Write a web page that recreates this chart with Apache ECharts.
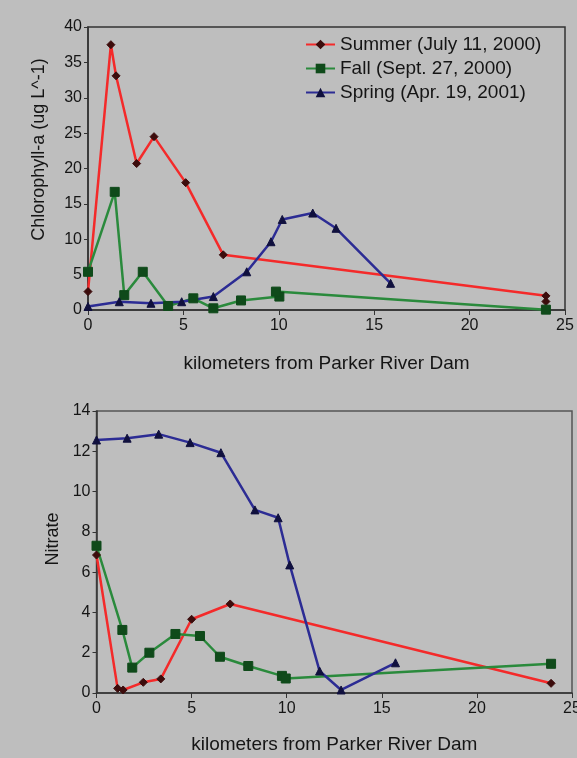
<!DOCTYPE html>
<html>
<head>
<meta charset="utf-8">
<script src="https://cdn.jsdelivr.net/npm/echarts@6/dist/echarts.min.js"></script>
<style>
  html, body { margin: 0; padding: 0; background: #bebebe; }
  #chart { width: 577px; height: 758px; }
</style>
</head>
<body>
<div id="chart"></div>
<script>
// Sampling campaigns
const seasonNames = ['Summer (July 11, 2000)', 'Fall (Sept. 27, 2000)', 'Spring (Apr. 19, 2001)'];

// Tick values
const distTicks = [0, 5, 10, 15, 20, 25];
const chlTicks = [0, 5, 10, 15, 20, 25, 30, 35, 40];
const nitTicks = [0, 2, 4, 6, 8, 10, 12, 14];

// Chlorophyll-a: [km from dam, ug/L]
const chlSummer = [[0, 2.6], [1.2, 37.5], [1.47, 33.1], [2.55, 20.7], [3.46, 24.5], [5.12, 18.0], [7.09, 7.8], [24.0, 2.0], [24.0, 1.2]];
const chlFall = [[0, 5.4], [1.4, 16.7], [1.9, 2.1], [2.87, 5.4], [4.2, 0.57], [5.52, 1.65], [6.57, 0.24], [8.02, 1.35], [10.03, 1.9], [9.85, 2.6], [24.0, 0.05]];
const chlSpring = [[0, 0.5], [1.64, 1.17], [3.3, 0.95], [4.91, 1.17], [6.57, 1.9], [8.32, 5.4], [9.59, 9.65], [10.18, 12.8], [11.78, 13.7], [13.0, 11.55], [15.86, 3.77]];

// Nitrate: [km from dam, concentration]
const nitSummer = [[0, 6.85], [1.11, 0.23], [1.4, 0.15], [2.46, 0.53], [3.38, 0.7], [5.0, 3.66], [7.03, 4.42], [23.9, 0.48]];
const nitFall = [[0, 7.31], [1.36, 3.13], [1.88, 1.26], [2.78, 2.0], [4.15, 2.93], [5.44, 2.83], [6.49, 1.8], [7.98, 1.34], [9.75, 0.85], [9.95, 0.72], [23.9, 1.45]];
const nitSpring = [[0, 12.56], [1.61, 12.65], [3.27, 12.85], [4.92, 12.43], [6.54, 11.93], [8.33, 9.09], [9.55, 8.7], [10.16, 6.36], [11.73, 1.09], [12.86, 0.15], [15.72, 1.5]];

const FONT = "'Liberation Sans', Arial, sans-serif";
const TXT = '#151515';

const styles = [
  { line: '#f42a2a', mark: '#3c0c0c', symbol: 'diamond', size: 8 },
  { line: '#2a8a3c', mark: '#0f4a1a', symbol: 'rect', size: 9 },
  { line: '#2c2c94', mark: '#10103e', symbol: 'triangle', size: 8 }
];

function xAxisFor(gridIndex, gap) {
  return {
    type: 'value', gridIndex,
    min: distTicks[0], max: distTicks[distTicks.length - 1],
    interval: distTicks[1] - distTicks[0],
    name: 'kilometers from Parker River Dam',
    nameLocation: 'middle', nameGap: gap,
    nameTextStyle: { fontFamily: FONT, fontSize: 19, color: TXT },
    axisLine: { lineStyle: { color: '#333', width: 1.5 } },
    axisTick: { show: true, inside: false, length: 5, lineStyle: { color: '#333' } },
    axisLabel: { fontFamily: FONT, fontSize: 16, color: TXT, margin: 8 },
    splitLine: { show: false }
  };
}

function yAxisFor(gridIndex, ticks, name, gap, pad) {
  return {
    type: 'value', gridIndex,
    min: ticks[0], max: ticks[ticks.length - 1],
    interval: ticks[1] - ticks[0],
    name, nameLocation: 'middle', nameGap: gap,
    nameTextStyle: { fontFamily: FONT, fontSize: 18, color: TXT, padding: [0, 0, 0, pad] },
    axisLine: { show: true, lineStyle: { color: '#333', width: 1.5 } },
    axisTick: { show: true, inside: false, length: 4, lineStyle: { color: '#333' } },
    axisLabel: { fontFamily: FONT, fontSize: 16, color: TXT, margin: 6 },
    splitLine: { show: false }
  };
}

function seriesFor(idx, data, axisIndex) {
  const s = styles[idx];
  return {
    name: seasonNames[idx], type: 'line',
    xAxisIndex: axisIndex, yAxisIndex: axisIndex,
    data,
    symbol: s.symbol, symbolSize: s.size,
    lineStyle: { color: s.line, width: 2.5 },
    itemStyle: { color: s.mark, borderColor: s.mark },
    emphasis: { disabled: true },
    animation: false
  };
}

const chart = echarts.init(document.getElementById('chart'), null, { renderer: 'canvas' });
chart.setOption({
  backgroundColor: '#bebebe',
  animation: false,
  grid: [
    { left: 88, top: 27, right: 12, height: 283, show: true, borderColor: '#333', borderWidth: 1.5, outerBoundsMode: 'none' },
    { left: 96.5, top: 411, right: 5, height: 282, show: true, borderColor: '#555', borderWidth: 1.5, outerBoundsMode: 'none' }
  ],
  legend: {
    data: seasonNames,
    orient: 'vertical',
    left: 305, top: 35, padding: 0,
    itemWidth: 29, itemHeight: 12, itemGap: 5,
    textStyle: { fontFamily: FONT, fontSize: 19, color: TXT },
    selectedMode: false
  },
  xAxis: [xAxisFor(0, 44), xAxisFor(1, 42)],
  yAxis: [
    yAxisFor(0, chlTicks, 'Chlorophyll-a (ug L^-1)', 40, 38),
    yAxisFor(1, nitTicks, 'Nitrate', 25, 26)
  ],
  series: [
    seriesFor(0, chlSummer, 0),
    seriesFor(1, chlFall, 0),
    seriesFor(2, chlSpring, 0),
    seriesFor(0, nitSummer, 1),
    seriesFor(1, nitFall, 1),
    seriesFor(2, nitSpring, 1)
  ]
});
</script>
</body>
</html>
